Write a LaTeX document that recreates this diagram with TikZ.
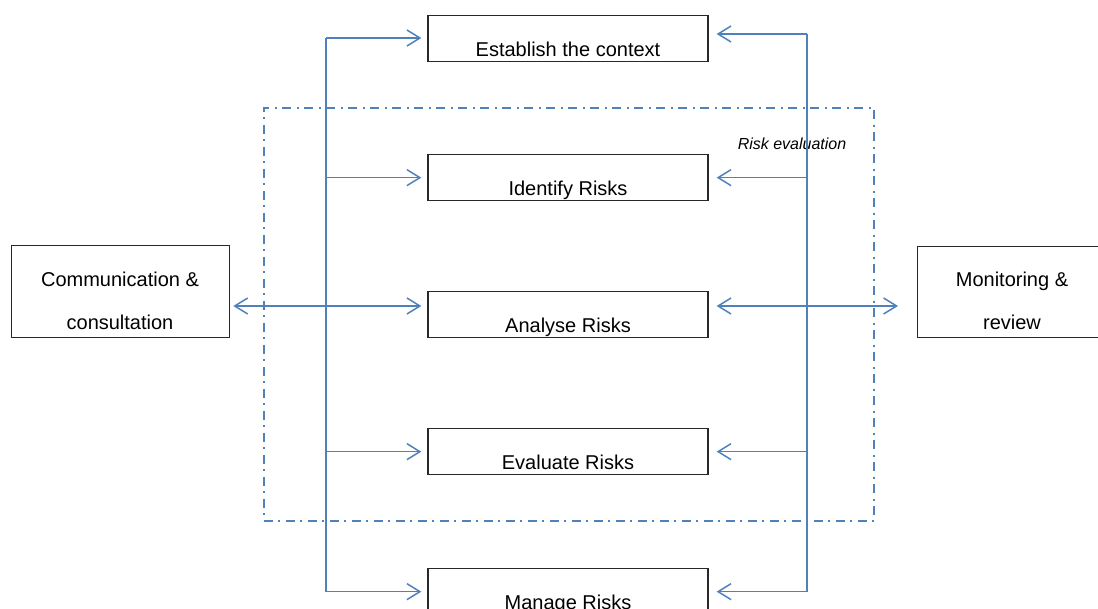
\documentclass[tikz,border=0pt]{standalone}
\usepackage{fontspec}
\setmainfont{Liberation Sans}
\usetikzlibrary{arrows.meta}
\definecolor{flow}{RGB}{79,129,189}
\definecolor{edge}{RGB}{40,40,40}
\tikzset{
  stepbox/.style={draw=edge, line width=1.3pt, minimum width=280pt, inner sep=0pt,
    text height=41pt, text depth=5pt, font=\fontsize{20}{24}\selectfont},
  sidebox/.style={draw=edge, line width=1.3pt, inner sep=0pt, anchor=north west},
  sidetext/.style={anchor=base, inner sep=0pt, font=\fontsize{20}{24}\selectfont},
  trunk/.style={draw=flow, line width=1.5pt},
  arr/.style={draw=flow, line width=1.5pt, -{Straight Barb[length=13pt,width=16pt]}},
  darr/.style={draw=flow, line width=1.5pt, {Straight Barb[length=13pt,width=16pt]}-{Straight Barb[length=13pt,width=16pt]}},
  stage/.style={draw=flow, line width=1.5pt, dash pattern=on 9pt off 5pt on 2pt off 6pt, inner sep=0pt}
}
\begin{document}
\begin{tikzpicture}[x=1pt,y=-1pt]
\useasboundingbox (0,0) rectangle (1098,609);
% dash-dot frame
\node[stage, minimum width=610pt, minimum height=413pt] (frame) at (569,314.5) {};
% step boxes
\node[stepbox, anchor=north] (est) at (568,15) {Establish the context};
\node[stepbox, anchor=north] (ide) at (568,154) {Identify Risks};
\node[stepbox, anchor=north] (ana) at (568,291) {Analyse Risks};
\node[stepbox, anchor=north] (eva) at (568,428) {Evaluate Risks};
\node[stepbox, anchor=north] (man) at (568,568) {Manage Risks};
% side boxes
\node[sidebox, minimum width=218pt, minimum height=92pt] (comm) at (11,245) {};
\node[sidetext] (comm1) at (120,287) {Communication \&};
\node[sidetext] (comm2) at (120,330) {consultation};
\node[sidebox, minimum width=190pt, minimum height=91pt] (mon) at (917,246) {};
\node[sidetext] (mon1) at (1012,287) {Monitoring \&};
\node[sidetext] (mon2) at (1012,330) {review};
% label
\node[anchor=base, inner sep=0pt, font=\fontsize{16}{19}\selectfont\itshape] (rev) at (792,150) {Risk evaluation};
% trunks
\coordinate (lt) at (326,38);
\coordinate (rt) at (807,34);
\coordinate (mid) at (0,306);
\draw[trunk] (lt) -- (man.west -| lt);
\draw[trunk] (rt) -- (man.east -| rt);
% left arrows
\draw[arr, shorten >=6pt] (lt) -- (lt -| est.west);
\draw[arr, shorten >=6pt] (ide.west -| lt) -- (ide.west);
\draw[arr, shorten >=6pt] (eva.west -| lt) -- (eva.west);
\draw[arr, shorten >=6pt] (man.west -| lt) -- (man.west);
% right arrows
\draw[arr, shorten >=8pt] (rt) -- (rt -| est.east);
\draw[arr, shorten >=8pt] (ide.east -| rt) -- (ide.east);
\draw[arr, shorten >=8pt] (eva.east -| rt) -- (eva.east);
\draw[arr, shorten >=8pt] (man.east -| rt) -- (man.east);
% double arrows
\draw[darr, shorten <=3pt, shorten >=6pt] (comm.east |- mid) -- (ana.west |- mid);
\draw[darr, shorten <=8pt, shorten >=19pt] (ana.east |- mid) -- (mon.west |- mid);
\end{tikzpicture}
\end{document}
